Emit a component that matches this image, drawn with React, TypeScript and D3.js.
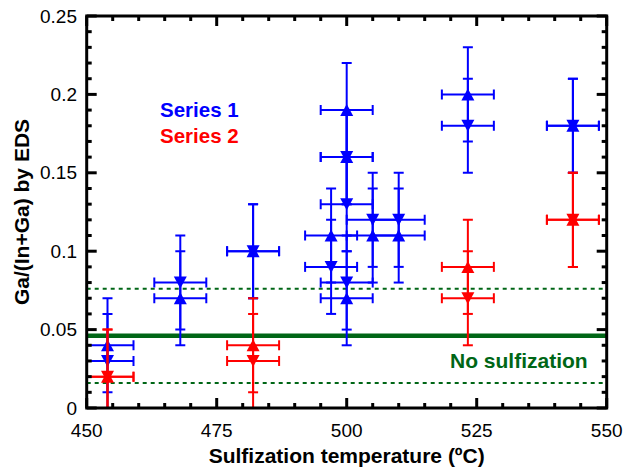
import React from "react";
import * as d3 from "d3";

// ---- data ----
const s1X = [454, 454, 468, 468, 482, 482, 497, 497, 500, 500, 500, 500, 500, 500, 505, 505, 510, 510, 523.3, 523.3, 543.5, 543.5];
const s1Y = [0.04, 0.03, 0.07, 0.08, 0.1, 0.1, 0.11, 0.09, 0.19, 0.16, 0.16, 0.13, 0.08, 0.07, 0.11, 0.12, 0.11, 0.12, 0.2, 0.18, 0.18, 0.18];
const s1Shape = ["up", "down", "up", "down", "up", "down", "up", "down", "up", "up", "down", "down", "down", "up", "up", "down", "up", "down", "up", "down", "up", "down"];

const s2X = [454, 454, 482, 482, 523.3, 523.3, 543.5, 543.5];
const s2Y = [0.02, 0.02, 0.04, 0.03, 0.09, 0.07, 0.12, 0.12];
const s2Shape = ["up", "down", "up", "down", "up", "down", "up", "down"];

const xErr = 5;
const yErr = 0.03;

const xTicks = [450, 475, 500, 525, 550];
const yTicks = [0, 0.05, 0.1, 0.15, 0.2, 0.25];
const yTickLabels = ["0", "0.05", "0.1", "0.15", "0.2", "0.25"];

const refMean = 0.046;
const refBand = [0.076, 0.016];

const seriesNames = ["Series 1", "Series 2"];
const seriesColors = ["#0000ff", "#ff0000"];
const refLabel = "No sulfization";
const xTitle = "Sulfization temperature (ºC)";
const yTitle = "Ga/(In+Ga) by EDS";

// ---- layout ----
const W = 626;
const H = 468;
const L = 86.7, R = 606.7, T = 16, B = 408;
const FONT = "'Liberation Sans', Arial, sans-serif";
const GREEN = "#006616";

const x = d3.scaleLinear().domain([450, 550]).range([L, R]);
const y = d3.scaleLinear().domain([0, 0.25]).range([B, T]);

function tri(cx: number, cy: number, shape: string) {
  const hw = 6.5, hh = 6;
  if (shape === "up") return `M${cx},${cy - hh}L${cx - hw},${cy + hh}L${cx + hw},${cy + hh}Z`;
  return `M${cx},${cy + hh}L${cx - hw},${cy - hh}L${cx + hw},${cy - hh}Z`;
}

function Series({ xs, ys, shapes, color }: { xs: number[]; ys: number[]; shapes: string[]; color: string }) {
  const cap = 5;
  return (
    <g>
      {xs.map((xv, i) => {
        const cx = x(xv), cy = y(ys[i]);
        const y1 = y(ys[i] + yErr), y0 = y(ys[i] - yErr);
        const x0 = x(xv - xErr), x1 = x(xv + xErr);
        return (
          <g key={"e" + i} stroke={color} strokeWidth={2} fill="none">
            <line x1={cx} x2={cx} y1={y1} y2={y0} />
            <line x1={cx - cap} x2={cx + cap} y1={y1} y2={y1} />
            <line x1={cx - cap} x2={cx + cap} y1={y0} y2={y0} />
            <line x1={x0} x2={x1} y1={cy} y2={cy} />
            <line x1={x0} x2={x0} y1={cy - cap} y2={cy + cap} />
            <line x1={x1} x2={x1} y1={cy - cap} y2={cy + cap} />
          </g>
        );
      })}
      {xs.map((xv, i) => (
        <path key={"m" + i} d={tri(x(xv), y(ys[i]), shapes[i])} fill={color} />
      ))}
    </g>
  );
}

export default function App() {
  const xMinor = d3.range(450, 551, 5);
  const yMinor = d3.range(0, 26).map((v) => v / 100);
  return (
    <svg width={W} height={H} style={{ position: "absolute", left: 0, top: 0, background: "#fff" }} fontFamily={FONT}>
      <defs>
        <clipPath id="plot">
          <rect x={L} y={T} width={R - L} height={B - T} />
        </clipPath>
      </defs>
      <g clipPath="url(#plot)">
        <line x1={L} x2={R} y1={y(refMean)} y2={y(refMean)} stroke={GREEN} strokeWidth={4.5} />
        {refBand.map((v, i) => (
          <line key={i} x1={L} x2={R} y1={y(v)} y2={y(v)} stroke={GREEN} strokeWidth={2} strokeDasharray="4,4" />
        ))}
        <Series xs={s1X} ys={s1Y} shapes={s1Shape} color={seriesColors[0]} />
        <Series xs={s2X} ys={s2Y} shapes={s2Shape} color={seriesColors[1]} />
      </g>
      {/* ticks */}
      <g stroke="#000" strokeWidth={3}>
        {xMinor.map((v) => {
          const len = v % 25 === 0 ? 10 : 5;
          return (
            <g key={"x" + v}>
              <line x1={x(v)} x2={x(v)} y1={B} y2={B - len} />
              <line x1={x(v)} x2={x(v)} y1={T} y2={T + len} />
            </g>
          );
        })}
        {yMinor.map((v, i) => {
          const len = i % 5 === 0 ? 10 : 5;
          return (
            <g key={"y" + i}>
              <line x1={L} x2={L + len} y1={y(v)} y2={y(v)} />
              <line x1={R} x2={R - len} y1={y(v)} y2={y(v)} />
            </g>
          );
        })}
      </g>
      <rect x={L} y={T} width={R - L} height={B - T} fill="none" stroke="#000" strokeWidth={3} />
      {/* tick labels */}
      {xTicks.map((v) => (
        <text key={"xl" + v} x={x(v)} y={437} textAnchor="middle" fontSize={19} fill="#000">
          {v}
        </text>
      ))}
      {yTicks.map((v, i) => (
        <text key={"yl" + v} x={77} y={y(v)} dy="0.35em" textAnchor="end" fontSize={19} fill="#000">
          {yTickLabels[i]}
        </text>
      ))}
      {/* titles */}
      <text x={(L + R) / 2} y={463} textAnchor="middle" fontSize={21} fontWeight="bold" fill="#000">
        {xTitle}
      </text>
      <text transform={`translate(29,${(T + B) / 2}) rotate(-90)`} textAnchor="middle" fontSize={21} fontWeight="bold" fill="#000">
        {yTitle}
      </text>
      {/* legend */}
      <text x={160} y={117} fontSize={20.5} fontWeight="bold" fill={seriesColors[0]}>
        {seriesNames[0]}
      </text>
      <text x={160} y={143} fontSize={20.5} fontWeight="bold" fill={seriesColors[1]}>
        {seriesNames[1]}
      </text>
      <text x={450} y={368} fontSize={21} fontWeight="bold" fill={GREEN}>
        {refLabel}
      </text>
    </svg>
  );
}
